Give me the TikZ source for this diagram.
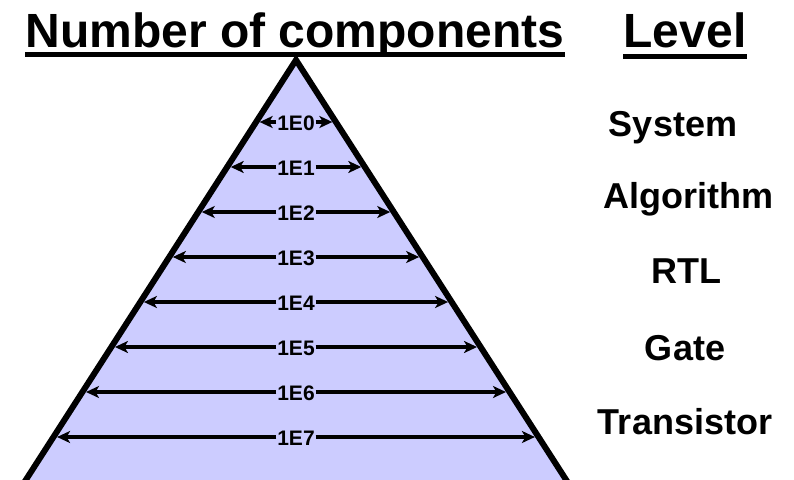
\documentclass[tikz,border=0pt]{standalone}
\usepackage{fontspec}
\setmainfont{Liberation Sans}
\usetikzlibrary{arrows.meta,calc}
\definecolor{pyrfill}{HTML}{CCCCFF}
\begin{document}
\begin{tikzpicture}[x=1pt,y=-1pt,
  heading/.style={font=\fontsize{48}{50}\selectfont\bfseries, inner sep=0pt, anchor=base},
  levelname/.style={font=\fontsize{36}{40}\selectfont\bfseries, inner sep=0pt, anchor=base},
  countlabel/.style={font=\fontsize{21}{23}\selectfont\bfseries, fill=pyrfill, inner sep=0.8pt},
  span/.style={line width=3.2pt, -{Stealth[length=13pt,width=12pt,inset=3.5pt]}},
  underbar/.style={line width=5pt},
  outline/.style={line width=6pt, fill=pyrfill, line join=miter}]
\useasboundingbox (0,0) rectangle (794,479);

% pyramid, cut off by the lower border
\begin{scope}
  \clip (0,0) rectangle (794,479);
  \coordinate (apex) at (296,60);
  \coordinate (bl) at (20,489);
  \coordinate (br) at (572,489);
  \draw[outline] (apex) -- (bl) -- (br) -- cycle;
\end{scope}

% component counts, one double arrow per level
\foreach \i in {0,...,7} {
  \pgfmathsetmacro{\yy}{122+45*\i}
  \pgfmathsetmacro{\hw}{(\yy-60)*0.643-3.5}
  \node[countlabel] (c\i) at (296,\yy+1.5) {1E\i};
  \coordinate (l\i) at (296-\hw,\yy);
  \coordinate (r\i) at (296+\hw,\yy);
  \draw[span] (c\i.west |- l\i) -- (l\i);
  \draw[span] (c\i.east |- r\i) -- (r\i);
}

% headings
\node[heading] (hcount) at (295,47) {Number of components};
\draw[underbar] ($(hcount.base west)+(0,7)$) -- ($(hcount.base east)+(0,7)$);
\node[heading] (hlevel) at (685,47) {Level};
\draw[underbar] ($(hlevel.base west)+(0,9.5)$) -- ($(hlevel.base east)+(0,9.5)$);

% abstraction levels
\node[levelname] (system) at (673,136) {System};
\node[levelname] (algo) at (688,208) {Algorithm};
\node[levelname] (rtl) at (686,283) {RTL};
\node[levelname] (gate) at (685,360) {Gate};
\node[levelname] (trans) at (685,434) {Transistor};
\end{tikzpicture}
\end{document}
